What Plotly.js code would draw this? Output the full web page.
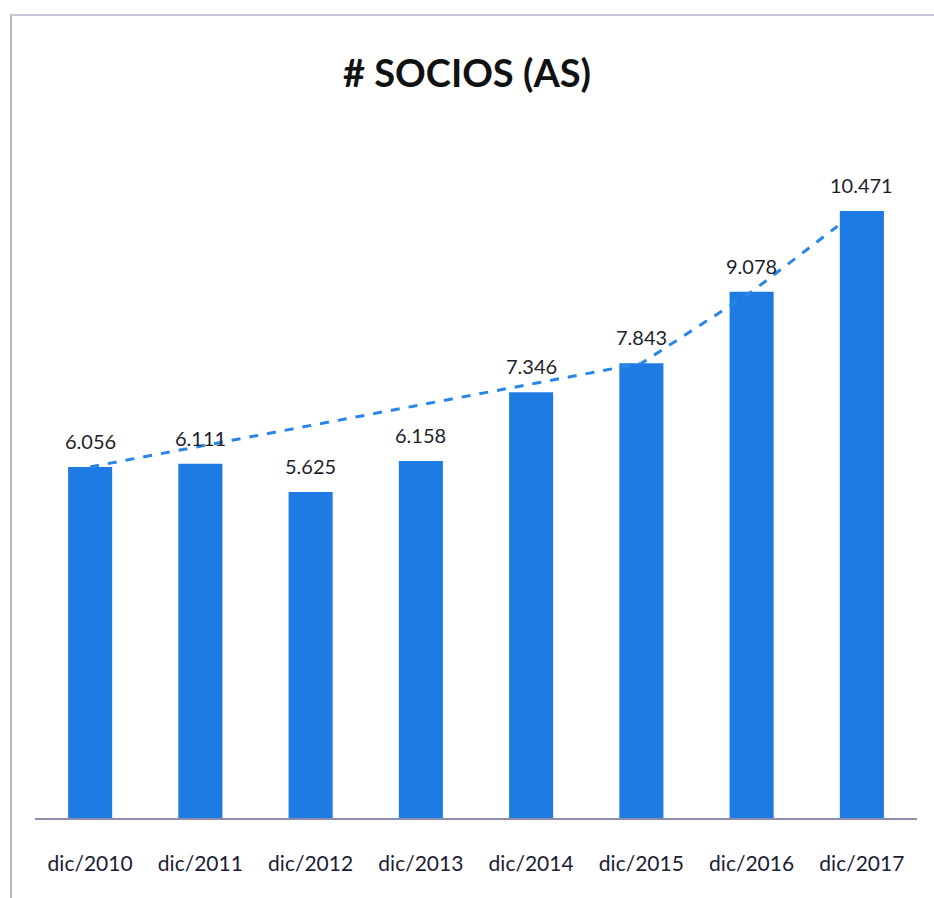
<!DOCTYPE html>
<html>
<head>
<meta charset="utf-8">
<script src="https://cdn.plot.ly/plotly-3.0.1.min.js"></script>
<style>
html,body{margin:0;padding:0;background:#fff;}
#frame{position:absolute;left:10px;top:14px;width:940px;height:900px;border-left:2px solid #b8b6cc;border-top:2px solid #c8c6d8;box-sizing:border-box;}
#chart{position:absolute;left:0;top:0;width:934px;height:898px;}
</style>
</head>
<body>
<div id="frame"></div>
<div id="chart"></div>
<script>
const categories = ["dic/2010","dic/2011","dic/2012","dic/2013","dic/2014","dic/2015","dic/2016","dic/2017"];
const socios = [6056, 6111, 5625, 6158, 7346, 7843, 9078, 10471];
const labels = ["6.056","6.111","5.625","6.158","7.346","7.843","9.078","10.471"];
// dashed trend line (x in category index units)
const trendX = [0, 5, 6, 6.78];
const trendY = [6056, 7843, 9078, 10210];

const barColor = "#1f7be4";
const fontFam = "Lato, 'Open Sans', sans-serif";

const traces = [
  {
    type: "bar",
    x: categories,
    y: socios,
    marker: {color: barColor},
    width: 0.4,
    hoverinfo: "skip"
  },
  {
    type: "scatter",
    mode: "lines",
    x: trendX,
    y: trendY,
    xaxis: "x2",
    line: {color: "#2a86e6", width: 3, dash: "dash"},
    hoverinfo: "skip"
  }
];

const annotations = categories.map((c, i) => ({
  x: c, y: socios[i], xref: "x", yref: "y",
  text: labels[i], showarrow: false,
  xanchor: "center", yanchor: "bottom", yshift: 12,
  font: {family: fontFam, size: 20, color: "#1e1e2a"}
}));

const layout = {
  width: 934,
  height: 898,
  paper_bgcolor: "rgba(0,0,0,0)",
  plot_bgcolor: "rgba(0,0,0,0)",
  showlegend: false,
  margin: {l: 35, r: 17, t: 100, b: 80},
  title: {
    text: "<b># SOCIOS (AS)</b>",
    x: 0.5, xanchor: "center",
    y: 0.918, yanchor: "middle",
    font: {family: fontFam, size: 38, color: "#111"}
  },
  xaxis: {
    type: "category",
    range: [-0.5, 7.5],
    showline: true,
    linecolor: "#8e8eaa",
    linewidth: 2,
    ticks: "outside",
    ticklen: 26,
    tickcolor: "rgba(0,0,0,0)",
    tickfont: {family: fontFam, size: 21, color: "#1c1c36"},
    showgrid: false,
    zeroline: false,
    fixedrange: true
  },
  xaxis2: {
    overlaying: "x",
    range: [-0.5, 7.5],
    visible: false,
    fixedrange: true
  },
  yaxis: {
    range: [0, 12386],
    visible: false,
    showgrid: false,
    zeroline: false,
    fixedrange: true
  },
  annotations: annotations,
  bargap: 0.6
};

Plotly.newPlot("chart", traces, layout, {displayModeBar: false, staticPlot: true});
</script>
</body>
</html>
